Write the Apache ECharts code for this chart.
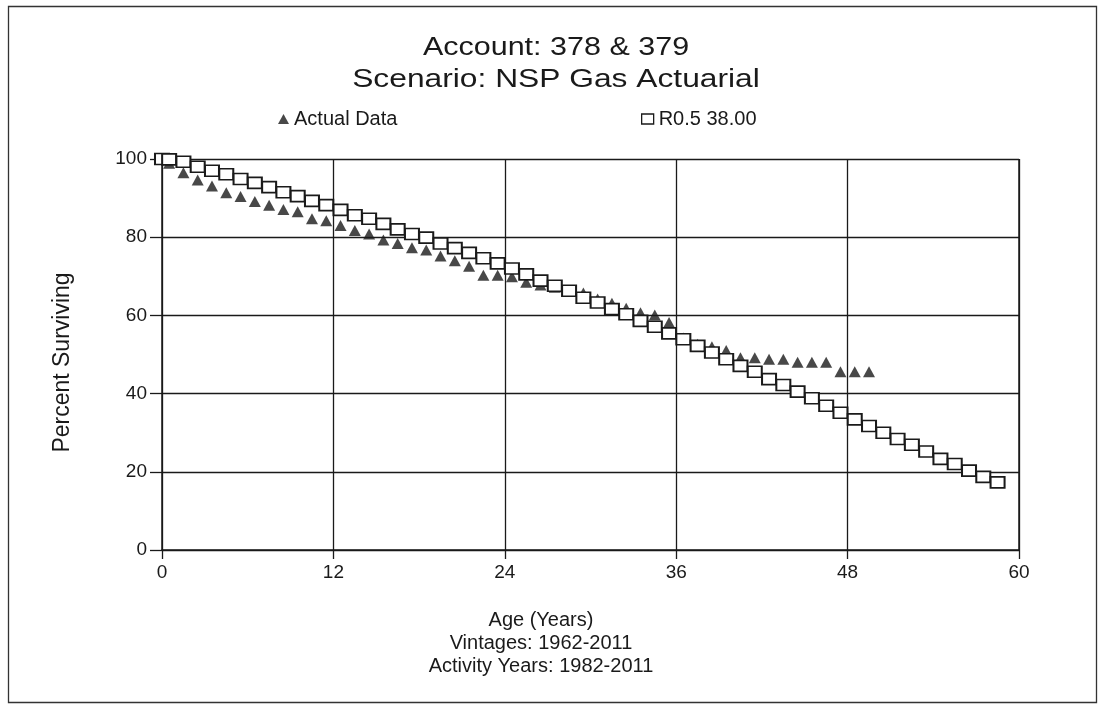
<!DOCTYPE html>
<html>
<head>
<meta charset="utf-8">
<script src="https://cdn.jsdelivr.net/npm/echarts@6/dist/echarts.min.js"></script>
<style>
  html, body { margin: 0; padding: 0; background: #fff; }
  #chart { width: 1100px; height: 706px; }
</style>
</head>
<body>
<div id="chart"></div>
<script>
// Survivor curve: observed retirements vs. fitted Iowa curve
const titleLines = ['Account: 378 & 379', 'Scenario: NSP Gas Actuarial'];
const xAxisLines = ['Age (Years)', 'Vintages: 1962-2011', 'Activity Years: 1982-2011'];
const yAxisName = 'Percent Surviving';
const actualName = 'Actual Data';
const curveName = 'R0.5 38.00';

// Ages (years) of the observed points
const actualAges = [0, 0.5, 1.5, 2.5, 3.5, 4.5, 5.5, 6.5, 7.5, 8.5, 9.5,
  10.5, 11.5, 12.5, 13.5, 14.5, 15.5, 16.5, 17.5, 18.5, 19.5,
  20.5, 21.5, 22.5, 23.5, 24.5, 25.5, 26.5, 27.5, 28.5, 29.5,
  30.5, 31.5, 32.5, 33.5, 34.5, 35.5, 36.5, 37.5, 38.5, 39.5,
  40.5, 41.5, 42.5, 43.5, 44.5, 45.5, 46.5, 47.5, 48.5, 49.5];
const actualValues = [100, 98.9, 96.5, 94.6, 93.1, 91.4, 90.4, 89.1, 88.2, 87.1, 86.5,
  84.7, 84.2, 83.0, 81.7, 80.8, 79.3, 78.4, 77.3, 76.7, 75.2,
  74.0, 72.6, 70.3, 70.3, 69.9, 68.5, 67.8, 67.2, 66.1, 65.7,
  64.2, 63.1, 61.8, 60.7, 60.1, 58.2, 54.2, 52.6, 52.0, 51.0,
  49.2, 49.2, 48.8, 48.8, 48.0, 48.0, 48.0, 45.6, 45.6, 45.6];

// Ages (years) of the fitted curve points
const curveAges = [0, 0.5, 1.5, 2.5, 3.5, 4.5, 5.5, 6.5, 7.5, 8.5, 9.5,
  10.5, 11.5, 12.5, 13.5, 14.5, 15.5, 16.5, 17.5, 18.5, 19.5,
  20.5, 21.5, 22.5, 23.5, 24.5, 25.5, 26.5, 27.5, 28.5, 29.5,
  30.5, 31.5, 32.5, 33.5, 34.5, 35.5, 36.5, 37.5, 38.5, 39.5,
  40.5, 41.5, 42.5, 43.5, 44.5, 45.5, 46.5, 47.5, 48.5, 49.5,
  50.5, 51.5, 52.5, 53.5, 54.5, 55.5, 56.5, 57.5, 58.5];
const curveValues = [100, 99.9, 99.3, 98.0, 97.0, 96.1, 94.9, 93.9, 92.8, 91.5, 90.5,
  89.3, 88.2, 87.0, 85.6, 84.7, 83.4, 82.0, 80.8, 79.9, 78.4,
  77.2, 76.0, 74.6, 73.3, 72.0, 70.5, 68.9, 67.6, 66.3, 64.5,
  63.3, 61.6, 60.3, 58.6, 57.1, 55.4, 53.9, 52.2, 50.5, 48.8,
  47.1, 45.6, 43.7, 42.2, 40.5, 38.8, 36.9, 35.1, 33.4, 31.7,
  30.0, 28.4, 26.9, 25.2, 23.3, 22.0, 20.3, 18.7, 17.3];

const xTicks = { min: 0, max: 60, interval: 12 };
const yTicks = { min: 0, max: 100, interval: 20 };

const FONT = '"Liberation Sans", Arial, sans-serif';
const INK = '#1a1a1a';

const pairs = (xs, ys) => xs.map((x, i) => [x, ys[i]]);

// centred text line, optionally widened like the report typeface
function textLine(str, cx, cy, size, widen) {
  return {
    type: 'text',
    x: cx, y: cy,
    scaleX: widen,
    style: { text: str, font: size + 'px ' + FONT, fill: INK, textAlign: 'center', textVerticalAlign: 'middle' },
    silent: true
  };
}

const chart = echarts.init(document.getElementById('chart'), null, { renderer: 'canvas' });

chart.setOption({
  backgroundColor: '#ffffff',
  animation: false,
  textStyle: { fontFamily: FONT, color: INK },
  grid: { left: 162, right: 81, top: 159, bottom: 156, show: false },
  legend: [
    {
      data: [{ name: actualName, icon: 'triangle' }],
      left: 273, top: 104,
      itemWidth: 11, itemHeight: 10, itemGap: 6,
      textStyle: { fontFamily: FONT, fontSize: 20, color: INK }
    },
    {
      data: [{ name: curveName, icon: 'rect', itemStyle: { color: '#fff', borderColor: INK, borderWidth: 1.3 } }],
      left: 636, top: 104,
      itemWidth: 12, itemHeight: 10, itemGap: 6,
      textStyle: { fontFamily: FONT, fontSize: 20, color: INK }
    }
  ],
  xAxis: {
    type: 'value',
    min: xTicks.min, max: xTicks.max, interval: xTicks.interval,
    axisLine: { show: true, onZero: false, lineStyle: { color: INK, width: 1.5 } },
    axisTick: { show: true, length: 9, lineStyle: { color: INK, width: 1.3 } },
    axisLabel: { fontFamily: FONT, fontSize: 19, color: INK, margin: 13 },
    splitLine: { show: true, lineStyle: { color: INK, width: 1.3 } }
  },
  yAxis: {
    type: 'value',
    min: yTicks.min, max: yTicks.max, interval: yTicks.interval,
    name: yAxisName,
    nameLocation: 'middle',
    nameGap: 88,
    nameTextStyle: { fontFamily: FONT, fontSize: 23, color: INK, padding: [0, 16, 0, 0] },
    axisLine: { show: true, lineStyle: { color: INK, width: 1.5 } },
    axisTick: { show: true, length: 12, lineStyle: { color: INK, width: 1.3 } },
    axisLabel: { fontFamily: FONT, fontSize: 19, color: INK, margin: 15 },
    splitLine: { show: true, lineStyle: { color: INK, width: 1.3 } }
  },
  series: [
    {
      name: actualName,
      type: 'scatter',
      data: pairs(actualAges, actualValues),
      symbol: 'triangle',
      symbolSize: [12, 11],
      itemStyle: { color: INK },
      z: 2
    },
    {
      name: curveName,
      type: 'scatter',
      data: pairs(curveAges, curveValues),
      symbol: 'rect',
      symbolSize: [14, 11],
      itemStyle: { color: '#ffffff', borderColor: INK, borderWidth: 1.8, opacity: 1 },
      z: 3
    }
  ],
  graphic: [
    // page frame
    {
      type: 'rect',
      shape: { x: 8.5, y: 6.5, width: 1088, height: 696 },
      style: { fill: 'none', stroke: '#333', lineWidth: 1.3 },
      silent: true
    },
    // right edge of plot frame
    {
      type: 'line',
      shape: { x1: 1019, y1: 159, x2: 1019, y2: 550 },
      style: { stroke: INK, lineWidth: 1.5 },
      silent: true
    },
    textLine(titleLines[0], 556, 48, 25, 1.22),
    textLine(titleLines[1], 556, 80, 25, 1.27),
    textLine(xAxisLines[0], 541, 620, 20, 1.0),
    textLine(xAxisLines[1], 541, 643, 20, 1.0),
    textLine(xAxisLines[2], 541, 666, 20, 1.0)
  ]
});
</script>
</body>
</html>
